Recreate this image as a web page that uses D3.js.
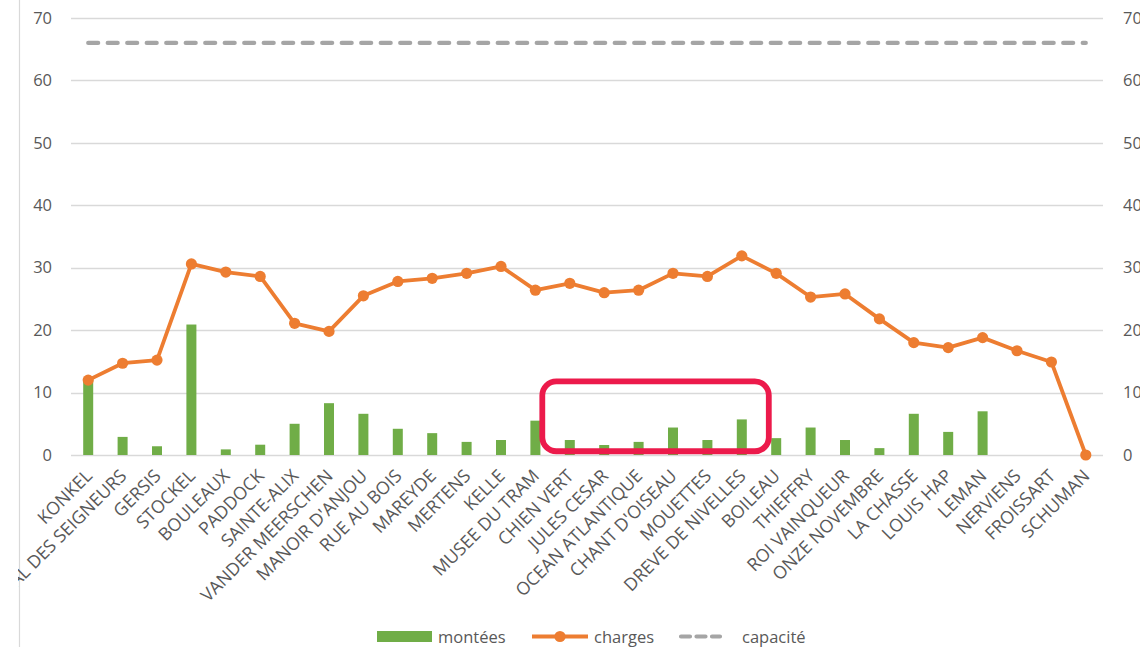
<!DOCTYPE html>
<html>
<head>
<meta charset="utf-8">
<script src="https://cdn.jsdelivr.net/npm/d3@7/dist/d3.min.js"></script>
<style>
  html, body { margin: 0; padding: 0; background: #ffffff; overflow: hidden; }
  svg { display: block; }
  text { font-family: "Open Sans", "Noto Sans", sans-serif; fill: #595959; }
</style>
</head>
<body>
<svg id="chart" width="1140" height="647"></svg>
<script>
// Arrêts de la ligne, dans l'ordre du parcours
const arrets = [
  "KONKEL", "VAL DES SEIGNEURS", "GERSIS", "STOCKEL", "BOULEAUX", "PADDOCK",
  "SAINTE-ALIX", "VANDER MEERSCHEN", "MANOIR D'ANJOU", "RUE AU BOIS", "MAREYDE",
  "MERTENS", "KELLE", "MUSEE DU TRAM", "CHIEN VERT", "JULES CESAR",
  "OCEAN ATLANTIQUE", "CHANT D'OISEAU", "MOUETTES", "DREVE DE NIVELLES",
  "BOILEAU", "THIEFFRY", "ROI VAINQUEUR", "ONZE NOVEMBRE", "LA CHASSE",
  "LOUIS HAP", "LEMAN", "NERVIENS", "FROISSART", "SCHUMAN"
];

// Voyageurs montant à chaque arrêt
const montees = [
  12.1, 2.9, 1.4, 20.9, 0.9, 1.65, 5.0, 8.3, 6.6, 4.2, 3.5,
  2.1, 2.4, 5.5, 2.4, 1.6, 2.1, 4.4, 2.4, 5.7,
  2.7, 4.4, 2.4, 1.1, 6.6, 3.7, 7.0, 0, 0, 0
];

// Charge du véhicule après chaque arrêt
const charges = [
  12.0, 14.7, 15.2, 30.6, 29.3, 28.6, 21.1, 19.8, 25.5, 27.8, 28.3,
  29.1, 30.2, 26.4, 27.5, 26.0, 26.4, 29.1, 28.6, 31.9,
  29.1, 25.3, 25.8, 21.8, 18.0, 17.2, 18.8, 16.7, 14.9, 0
];

// Capacité du véhicule
const capacite = [
  66, 66, 66, 66, 66, 66, 66, 66, 66, 66, 66, 66, 66, 66, 66,
  66, 66, 66, 66, 66, 66, 66, 66, 66, 66, 66, 66, 66, 66, 66
];

const yTicks = [0, 10, 20, 30, 40, 50, 60, 70];
const legende = ["montées", "charges", "capacité"];

const GREEN = "#70ad47", ORANGE = "#ed7d31", GREY = "#a5a5a5", GRID = "#d9d9d9";

const svg = d3.select("#chart");
const plot = { left: 71, right: 1103, top: 18, bottom: 455 };

const x = d3.scaleBand().domain(arrets).range([plot.left, plot.right]).padding(0);
const cx = d => x(d) + x.bandwidth() / 2;
const y = d3.scaleLinear().domain([0, 70]).range([plot.bottom, plot.top]);

// Bordure gauche de la zone du graphique
svg.append("line")
  .attr("x1", 19.5).attr("x2", 19.5).attr("y1", 0).attr("y2", 647)
  .attr("stroke", GRID).attr("stroke-width", 1.2);

// Quadrillage horizontal
svg.append("g").selectAll("line").data(yTicks).join("line")
  .attr("x1", plot.left).attr("x2", plot.right)
  .attr("y1", d => Math.round(y(d)) + 0.5).attr("y2", d => Math.round(y(d)) + 0.5)
  .attr("stroke", GRID).attr("stroke-width", 1.3);

// Axes verticaux (gauche et droite, même échelle)
const axisL = d3.axisLeft(y).tickValues(yTicks).tickSize(0).tickPadding(0);
const gL = svg.append("g").attr("transform", "translate(52,0)").call(axisL);
const axisR = d3.axisRight(y).tickValues(yTicks).tickSize(0).tickPadding(0);
const gR = svg.append("g").attr("transform", "translate(1123,0)").call(axisR);
[gL, gR].forEach(g => {
  g.select(".domain").remove();
  g.selectAll("text")
    .style("font-family", '"Open Sans", sans-serif')
    .style("font-size", "16.5px")
    .attr("fill", "#595959");
});

// Libellés des arrêts, inclinés
svg.append("defs").append("clipPath").attr("id", "clipLabels")
  .append("rect").attr("x", 18).attr("y", 0).attr("width", 1122).attr("height", 647);

const axisB = d3.axisBottom(x).tickSize(0).tickPadding(0);
const gB = svg.append("g")
  .attr("transform", `translate(0,${plot.bottom})`)
  .attr("clip-path", "url(#clipLabels)")
  .call(axisB);
gB.select(".domain").remove();
gB.selectAll("text")
  .style("font-family", '"Open Sans", sans-serif')
  .style("font-size", "17.8px")
  .attr("fill", "#595959")
  .attr("text-anchor", "end")
  .attr("dy", null)
  .attr("y", null)
  .attr("transform", "translate(5,22) rotate(-45)");

// Barres : montées
svg.append("g").selectAll("rect").data(arrets).join("rect")
  .attr("x", d => cx(d) - 5)
  .attr("width", 10)
  .attr("y", (d, i) => y(montees[i]))
  .attr("height", (d, i) => y(0) - y(montees[i]))
  .attr("fill", GREEN);

// Ligne : capacité
const lineCap = d3.line().x((d, i) => cx(arrets[i])).y(d => y(d));
svg.append("path").datum(capacite)
  .attr("d", lineCap)
  .attr("fill", "none").attr("stroke", GREY)
  .attr("stroke-width", 4.2).attr("stroke-linecap", "round")
  .attr("stroke-dasharray", "10,9.5");

// Ligne : charges, avec marqueurs
const lineCh = d3.line().x((d, i) => cx(arrets[i])).y(d => y(d));
svg.append("path").datum(charges)
  .attr("d", lineCh)
  .attr("fill", "none").attr("stroke", ORANGE)
  .attr("stroke-width", 3.8).attr("stroke-linejoin", "round");
svg.append("g").selectAll("circle").data(charges).join("circle")
  .attr("cx", (d, i) => cx(arrets[i]))
  .attr("cy", d => y(d))
  .attr("r", 5.6)
  .attr("fill", ORANGE);

// Cadre de mise en évidence (CHIEN VERT → DREVE DE NIVELLES)
const hx0 = cx("CHIEN VERT") - 27.5;
const hx1 = cx("DREVE DE NIVELLES") + 27;
const hy0 = y(11.8), hy1 = y(0.6);
svg.append("rect")
  .attr("x", hx0).attr("y", hy0)
  .attr("width", hx1 - hx0).attr("height", hy1 - hy0)
  .attr("rx", 14).attr("ry", 14)
  .attr("fill", "none").attr("stroke", "#ec1a4b").attr("stroke-width", 5.8);

// Légende
const lg = svg.append("g").style("font-size", "16.5px");
const ly = 636.5;
lg.append("rect").attr("x", 377).attr("y", 631).attr("width", 55).attr("height", 11).attr("fill", GREEN);
lg.append("text").attr("x", 438).attr("y", 643).text(legende[0]);
lg.append("line").attr("x1", 532).attr("x2", 588).attr("y1", ly).attr("y2", ly)
  .attr("stroke", ORANGE).attr("stroke-width", 3.8);
lg.append("circle").attr("cx", 560).attr("cy", ly).attr("r", 5.6).attr("fill", ORANGE);
lg.append("text").attr("x", 594).attr("y", 643).text(legende[1]);
lg.append("line").attr("x1", 681).attr("x2", 720).attr("y1", ly).attr("y2", ly)
  .attr("stroke", GREY).attr("stroke-width", 4.2).attr("stroke-linecap", "round")
  .attr("stroke-dasharray", "9,6.5");
lg.append("text").attr("x", 742).attr("y", 643).text(legende[2]);
</script>
</body>
</html>
